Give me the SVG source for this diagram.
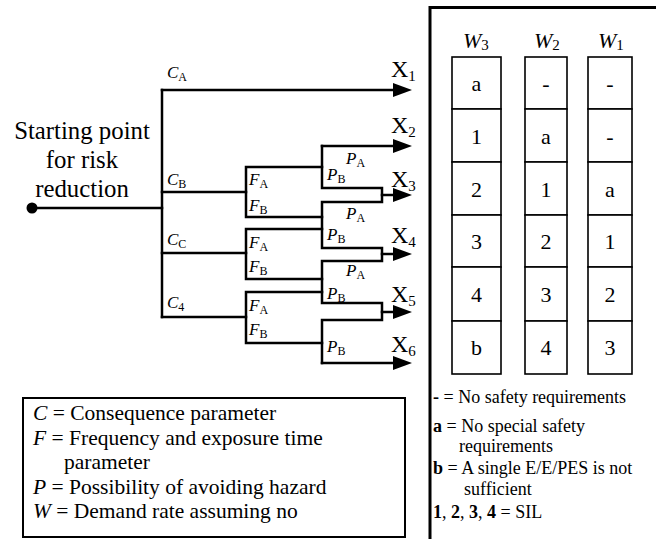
<svg xmlns="http://www.w3.org/2000/svg" width="656" height="539" viewBox="0 0 656 539" font-family="Liberation Serif, DejaVu Serif, serif">
<style>
text{font-family:'Liberation Serif','DejaVu Serif',serif;fill:#000}
.ln{fill:none;stroke:#000;stroke-width:2.5;stroke-linecap:square}
.arr{marker-end:url(#ah)}
.cl{font-size:17px}
.xl{font-size:24px}
.sub{font-size:12px}
.xs{font-size:15px}
.it{font-style:italic}
.big{font-size:24.8px}
.cell{fill:#fff;stroke:#000;stroke-width:1.6}
.ct{font-size:22px;text-anchor:middle}
.wl{font-size:22px}
.rl{font-size:18px}
.ll{font-size:21.5px}
.b{font-weight:bold}
.frame{fill:none;stroke:#000;stroke-width:3}
</style>
<defs>
<marker id="ah" markerUnits="userSpaceOnUse" markerWidth="19" markerHeight="14" refX="0" refY="7" orient="auto" viewBox="0 0 19 14">
<path d="M0,0 L19,7 L0,14 z" fill="#000"/>
</marker>
</defs>
<rect width="656" height="539" fill="#fff"/>

<g id="start">
<circle cx="32" cy="208" r="5.5" fill="#000"/>
<text class="big" text-anchor="middle"><tspan x="82" y="139">Starting point</tspan><tspan x="82" y="168">for risk</tspan><tspan x="82" y="197">reduction</tspan></text>
</g>

<g id="connectors">
<path class="ln" d="M32,208 H162"/>
<path class="ln" d="M162,90 V317"/>
<path class="ln arr" d="M162,90 H393"/>
<path class="ln" d="M162,192 H246 M162,253 H246 M162,317 H246"/>
<path class="ln" d="M322,167 H246 V217 H322"/>
<path class="ln" d="M322,229 H246 V279 H322"/>
<path class="ln" d="M322,292 H246 V343 H322"/>
<path class="ln arr" d="M322,146 H393"/>
<path class="ln" d="M322,146 V188 H382 V202 H322 V248 H382 V261 H322 V303 H382 V320 H322 V363"/>
<path class="ln arr" d="M382,195 H393"/>
<path class="ln arr" d="M382,254 H393"/>
<path class="ln arr" d="M382,312 H393"/>
<path class="ln arr" d="M322,363 H393"/>
</g>

<g id="c-labels">
<text class="cl" x="167" y="78"><tspan class="it">C</tspan><tspan class="sub" dy="3">A</tspan></text>
<text class="cl" x="167" y="185"><tspan class="it">C</tspan><tspan class="sub" dy="3">B</tspan></text>
<text class="cl" x="167" y="245"><tspan class="it">C</tspan><tspan class="sub" dy="3">C</tspan></text>
<text class="cl" x="167" y="308"><tspan class="it">C</tspan><tspan class="sub" dy="3">4</tspan></text>
</g>

<g id="f-labels">
<text class="cl" x="249" y="185"><tspan class="it">F</tspan><tspan class="sub" dy="3">A</tspan></text>
<text class="cl" x="249" y="211"><tspan class="it">F</tspan><tspan class="sub" dy="3">B</tspan></text>
<text class="cl" x="249" y="248"><tspan class="it">F</tspan><tspan class="sub" dy="3">A</tspan></text>
<text class="cl" x="249" y="272"><tspan class="it">F</tspan><tspan class="sub" dy="3">B</tspan></text>
<text class="cl" x="249" y="311"><tspan class="it">F</tspan><tspan class="sub" dy="3">A</tspan></text>
<text class="cl" x="249" y="335"><tspan class="it">F</tspan><tspan class="sub" dy="3">B</tspan></text>
</g>

<g id="p-labels">
<text class="cl" x="346" y="164"><tspan class="it">P</tspan><tspan class="sub" dy="3">A</tspan></text>
<text class="cl" x="327" y="180"><tspan class="it">P</tspan><tspan class="sub" dy="3">B</tspan></text>
<text class="cl" x="346" y="219"><tspan class="it">P</tspan><tspan class="sub" dy="3">A</tspan></text>
<text class="cl" x="327" y="240"><tspan class="it">P</tspan><tspan class="sub" dy="3">B</tspan></text>
<text class="cl" x="346" y="276"><tspan class="it">P</tspan><tspan class="sub" dy="3">A</tspan></text>
<text class="cl" x="327" y="299"><tspan class="it">P</tspan><tspan class="sub" dy="3">B</tspan></text>
<text class="cl" x="327" y="352"><tspan class="it">P</tspan><tspan class="sub" dy="3">B</tspan></text>
</g>

<g id="x-labels">
<text class="xl" x="391" y="77">X<tspan class="xs" dy="4">1</tspan></text>
<text class="xl" x="391" y="133">X<tspan class="xs" dy="4">2</tspan></text>
<text class="xl" x="391" y="187">X<tspan class="xs" dy="4">3</tspan></text>
<text class="xl" x="391" y="243">X<tspan class="xs" dy="4">4</tspan></text>
<text class="xl" x="391" y="302">X<tspan class="xs" dy="4">5</tspan></text>
<text class="xl" x="391" y="352">X<tspan class="xs" dy="4">6</tspan></text>
</g>

<g id="panel">
<path class="frame" d="M430,539 V7.5 H656"/>
</g>

<g id="table">
<text class="wl" x="463" y="48"><tspan class="it">W</tspan><tspan class="xs" dy="2">3</tspan></text>
<text class="wl" x="534" y="48"><tspan class="it">W</tspan><tspan class="xs" dy="2">2</tspan></text>
<text class="wl" x="598" y="48"><tspan class="it">W</tspan><tspan class="xs" dy="2">1</tspan></text>
<g id="col-w3">
<rect class="cell" x="452" y="57" width="49" height="52"/>
<rect class="cell" x="452" y="109" width="49" height="53"/>
<rect class="cell" x="452" y="162" width="49" height="53"/>
<rect class="cell" x="452" y="215" width="49" height="52"/>
<rect class="cell" x="452" y="267" width="49" height="54"/>
<rect class="cell" x="452" y="321" width="49" height="53"/>
<text class="ct" x="476.5" y="91">a</text>
<text class="ct" x="476.5" y="144">1</text>
<text class="ct" x="476.5" y="197">2</text>
<text class="ct" x="476.5" y="249">3</text>
<text class="ct" x="476.5" y="302">4</text>
<text class="ct" x="476.5" y="355">b</text>
</g>
<g id="col-w2">
<rect class="cell" x="525" y="57" width="42" height="52"/>
<rect class="cell" x="525" y="109" width="42" height="53"/>
<rect class="cell" x="525" y="162" width="42" height="53"/>
<rect class="cell" x="525" y="215" width="42" height="52"/>
<rect class="cell" x="525" y="267" width="42" height="54"/>
<rect class="cell" x="525" y="321" width="42" height="53"/>
<text class="ct" x="546" y="91">-</text>
<text class="ct" x="546" y="144">a</text>
<text class="ct" x="546" y="197">1</text>
<text class="ct" x="546" y="249">2</text>
<text class="ct" x="546" y="302">3</text>
<text class="ct" x="546" y="355">4</text>
</g>
<g id="col-w1">
<rect class="cell" x="588" y="57" width="44" height="52"/>
<rect class="cell" x="588" y="109" width="44" height="53"/>
<rect class="cell" x="588" y="162" width="44" height="53"/>
<rect class="cell" x="588" y="215" width="44" height="52"/>
<rect class="cell" x="588" y="267" width="44" height="54"/>
<rect class="cell" x="588" y="321" width="44" height="53"/>
<text class="ct" x="610" y="91">-</text>
<text class="ct" x="610" y="144">-</text>
<text class="ct" x="610" y="197">a</text>
<text class="ct" x="610" y="249">1</text>
<text class="ct" x="610" y="302">2</text>
<text class="ct" x="610" y="355">3</text>
</g>
</g>

<g id="key-right">
<text class="rl" x="433" y="403"><tspan class="b">-</tspan> = No safety requirements</text>
<text class="rl" x="433" y="432"><tspan class="b">a</tspan> = No special safety</text>
<text class="rl" x="459" y="452">requirements</text>
<text class="rl" x="433" y="474"><tspan class="b">b</tspan> = A single E/E/PES is not</text>
<text class="rl" x="464" y="495">sufficient</text>
<text class="rl" x="433" y="518"><tspan class="b">1</tspan>, <tspan class="b">2</tspan>, <tspan class="b">3</tspan>, <tspan class="b">4</tspan> = SIL</text>
</g>

<g id="key-left">
<rect x="23" y="398" width="382" height="139" fill="none" stroke="#000" stroke-width="2"/>
<text class="ll" x="33" y="420"><tspan class="it">C</tspan> = Consequence parameter</text>
<text class="ll" x="33" y="445"><tspan class="it">F</tspan> = Frequency and exposure time</text>
<text class="ll" x="64" y="469">parameter</text>
<text class="ll" x="33" y="494"><tspan class="it">P</tspan> = Possibility of avoiding hazard</text>
<text class="ll" x="33" y="518"><tspan class="it">W</tspan> = Demand rate assuming no</text>
</g>
</svg>
